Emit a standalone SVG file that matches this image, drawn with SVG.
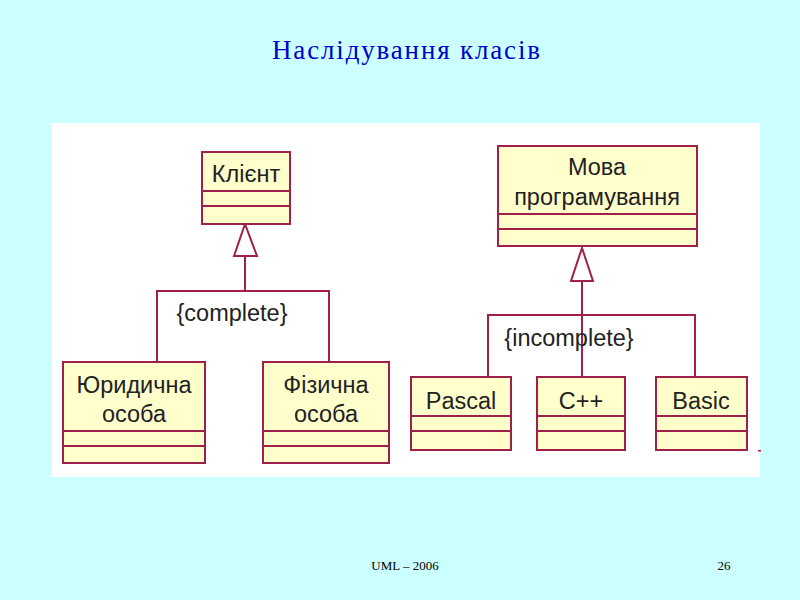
<svg xmlns="http://www.w3.org/2000/svg" width="800" height="600" viewBox="0 0 800 600">
<style>
.box{fill:#ffffcc;stroke:#a0204a;stroke-width:2}
.ln{stroke:#a0204a;stroke-width:2;fill:none}
.t{font-family:"Liberation Sans",Arial,sans-serif;font-size:23.5px;fill:#222;text-anchor:middle}
.f{font-family:"Liberation Serif","Times New Roman",serif;font-size:13px;fill:#000;text-anchor:middle}
</style>
<rect width="800" height="600" fill="#ccffff"/>
<text x="406" y="59" font-family="Liberation Serif,serif" font-size="27" fill="#0000cc" text-anchor="middle" textLength="268">Наслідування класів</text>
<rect x="52" y="123" width="708" height="354" fill="#ffffff"/>
<g id="connectors">
<polygon class="ln" points="245,224 234,256 257,256" style="fill:#fff"/>
<path class="ln" d="M245,256V291M157,362V291H329V362"/>
<polygon class="ln" points="582,248 571,281 593,281" style="fill:#fff"/>
<path class="ln" d="M582,281V377M488,377V315H695V377"/>
<text class="t" x="232" y="321">{complete}</text>
<text class="t" x="569" y="346">{incomplete}</text>
</g>
<g id="klient"><rect class="box" x="202" y="152" width="88" height="72"/><path class="ln" d="M202,191H290M202,206H290"/><text class="t" x="246" y="182">Клієнт</text></g>
<g id="yur"><rect class="box" x="63" y="362" width="142" height="101"/><path class="ln" d="M63,431H205M63,446H205"/><text class="t" x="134" y="393">Юридична</text><text class="t" x="134" y="422">особа</text></g>
<g id="fiz"><rect class="box" x="263" y="362" width="126" height="101"/><path class="ln" d="M263,431H389M263,446H389"/><text class="t" x="326" y="393">Фізична</text><text class="t" x="326" y="422">особа</text></g>
<g id="mova"><rect class="box" x="498" y="146" width="199" height="100"/><path class="ln" d="M498,214H697M498,229H697"/><text class="t" x="597" y="175">Мова</text><text class="t" x="597" y="205">програмування</text></g>
<g id="pascal"><rect class="box" x="411" y="377" width="100" height="73"/><path class="ln" d="M411,416H511M411,431H511"/><text class="t" x="461" y="409">Pascal</text></g>
<g id="cpp"><rect class="box" x="537" y="377" width="88" height="73"/><path class="ln" d="M537,416H625M537,431H625"/><text class="t" x="581" y="409">C++</text></g>
<g id="basic"><rect class="box" x="656" y="377" width="91" height="73"/><path class="ln" d="M656,416H747M656,431H747"/><text class="t" x="701" y="409">Basic</text></g>
<rect x="758" y="450" width="3" height="1.5" fill="#a0204a"/>
<text class="f" x="405" y="570">UML – 2006</text>
<text class="f" x="724" y="570">26</text>
</svg>
